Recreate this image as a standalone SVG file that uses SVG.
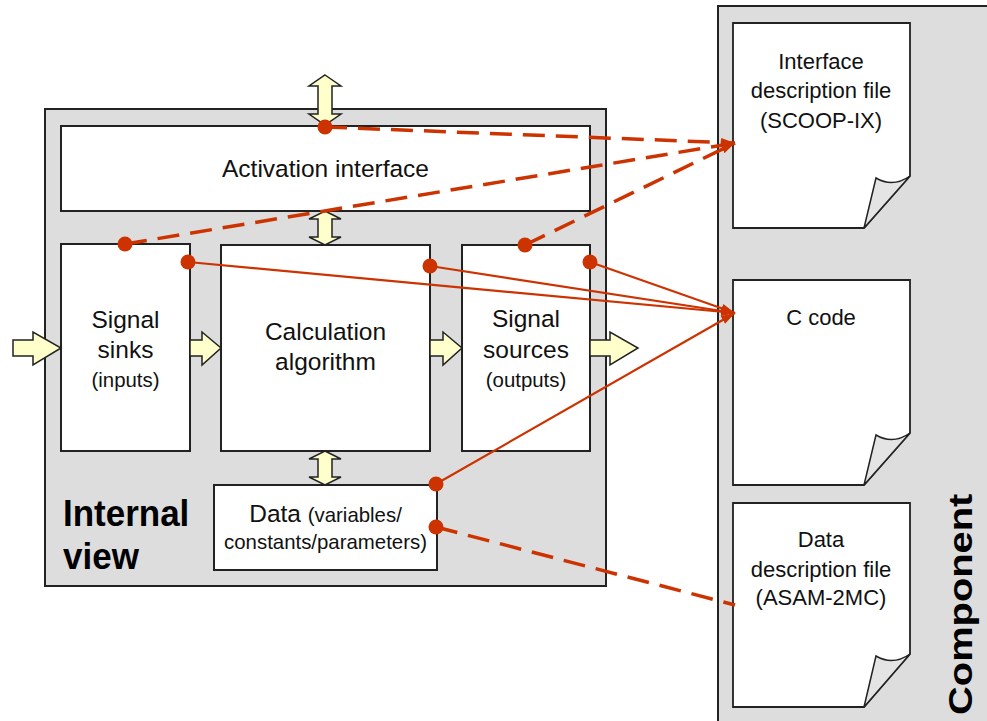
<svg xmlns="http://www.w3.org/2000/svg" width="987" height="721" viewBox="0 0 987 721">
<defs>
<style>
.panel{fill:#dddddd;stroke:#222;stroke-width:2}
.box{fill:#fff;stroke:#222;stroke-width:2}
.arr{fill:#ffffcc;stroke:#222;stroke-width:1.5;stroke-linejoin:miter}
.page{fill:#fff;stroke:#222;stroke-width:1.8;stroke-linejoin:miter}
.curl{fill:#e4e4e4;stroke:#222;stroke-width:1.5}
.t{font-family:"Liberation Sans",Arial,sans-serif;font-size:24.5px;fill:#111;text-anchor:middle}
.s{font-size:20.4px}
.d{font-family:"Liberation Sans",Arial,sans-serif;font-size:22px;fill:#111;text-anchor:middle}
.b{font-family:"Liberation Sans",Arial,sans-serif;font-weight:bold;fill:#000}
.dash{stroke:#cc3300;stroke-width:3.5;fill:none;stroke-dasharray:22 11}
.sol{stroke:#cc3300;stroke-width:2.2;fill:none}
.dot{fill:#cc3300}
</style>
<marker id="ah" markerUnits="userSpaceOnUse" markerWidth="16" markerHeight="12" refX="14" refY="6" orient="auto">
<path d="M0,1.5 L14,6 L0,10.5 Z" fill="#cc3300"/>
</marker>
</defs>

<g id="component">
<rect class="panel" x="718" y="6" width="280" height="730"/>
<text class="b" font-size="33.5" transform="translate(972,715) rotate(-90) scale(1.19,1)">Component</text>
</g>

<g id="doc-interface">
<path class="page" d="M733,23 H910 V176 L864,228 H733 Z"/>
<path class="curl" d="M910,176 Q893,188 876,178 L864,228 Z"/>
<text class="d" x="821" y="69">Interface</text>
<text class="d" x="821" y="98">description file</text>
<text class="d" x="821" y="128">(SCOOP-IX)</text>
</g>

<g id="doc-ccode">
<path class="page" d="M733,280 H910 V433 L864,485 H733 Z"/>
<path class="curl" d="M910,433 Q893,445 876,435 L864,485 Z"/>
<text class="d" x="821" y="325">C code</text>
</g>

<g id="doc-data">
<path class="page" d="M733,503 H910 V654 L864,707 H733 Z"/>
<path class="curl" d="M910,654 Q893,666 876,656 L864,707 Z"/>
<text class="d" x="821" y="547">Data</text>
<text class="d" x="821" y="577">description file</text>
<text class="d" x="821" y="605">(ASAM-2MC)</text>
</g>

<g id="internal-view">
<rect class="panel" x="45" y="109" width="561" height="477"/>
<text class="b" font-size="35" transform="translate(63,526) scale(1,1.08)">Internal</text>
<text class="b" font-size="35" transform="translate(63,569) scale(1,1.08)">view</text>
</g>

<g id="activation">
<rect class="box" x="61" y="126" width="529" height="85"/>
<text class="t" x="325.5" y="177">Activation interface</text>
</g>

<g id="sinks">
<rect class="box" x="61" y="244" width="129" height="207"/>
<text class="t" x="125.5" y="328">Signal</text>
<text class="t" x="125.5" y="358">sinks</text>
<text class="t s" x="125.5" y="387">(inputs)</text>
</g>

<g id="calc">
<rect class="box" x="221" y="245" width="209" height="206"/>
<text class="t" x="325.5" y="340">Calculation</text>
<text class="t" x="325.5" y="370">algorithm</text>
</g>

<g id="sources">
<rect class="box" x="462" y="245" width="128" height="206"/>
<text class="t" x="526" y="327">Signal</text>
<text class="t" x="526" y="358">sources</text>
<text class="t s" x="526" y="387">(outputs)</text>
</g>

<g id="data">
<rect class="box" x="214" y="485" width="223" height="85"/>
<text class="t" x="325.5" y="522">Data <tspan class="s">(variables/</tspan></text>
<text class="t s" x="325.5" y="549">constants/parameters)</text>
</g>

<g id="flow-arrows">
<path class="arr" d="M325,75 L341,86 L332,86 L332,114 L341,114 L325,125 L309,114 L318,114 L318,86 L309,86 Z"/>
<path class="arr" d="M325,211 L341,219 L332,219 L332,237 L341,237 L325,245 L309,237 L318,237 L318,219 L309,219 Z"/>
<path class="arr" d="M325,451 L341,459 L332,459 L332,477 L341,477 L325,485 L309,477 L318,477 L318,459 L309,459 Z"/>
<path class="arr" d="M13,340 L33,340 L33,332 L61,348 L33,365 L33,356 L13,356 Z"/>
<path class="arr" d="M190,340 L202,340 L202,332 L221,348 L202,365 L202,356 L190,356 Z"/>
<path class="arr" d="M430,340 L443,340 L443,332 L462,348 L443,365 L443,356 L430,356 Z"/>
<path class="arr" d="M590,340 L610,340 L610,332 L638,348 L610,365 L610,356 L590,356 Z"/>
</g>

<g id="connectors">
<line class="dash" x1="325" y1="127" x2="735" y2="143" marker-end="url(#ah)"/>
<line class="dash" x1="125" y1="244" x2="735" y2="143" marker-end="url(#ah)"/>
<line class="dash" x1="525" y1="245" x2="735" y2="143" marker-end="url(#ah)"/>
<line class="sol" x1="188" y1="262" x2="735" y2="313" marker-end="url(#ah)"/>
<line class="sol" x1="430" y1="266" x2="735" y2="313" marker-end="url(#ah)"/>
<line class="sol" x1="590" y1="262" x2="735" y2="313" marker-end="url(#ah)"/>
<line class="sol" x1="436" y1="484" x2="735" y2="313" marker-end="url(#ah)"/>
<line class="dash" x1="436" y1="527" x2="735" y2="605"/>
<circle class="dot" cx="325" cy="127" r="7.5"/>
<circle class="dot" cx="125" cy="244" r="7.5"/>
<circle class="dot" cx="188" cy="262" r="7.5"/>
<circle class="dot" cx="430" cy="266" r="7.5"/>
<circle class="dot" cx="525" cy="245" r="7.5"/>
<circle class="dot" cx="590" cy="262" r="7.5"/>
<circle class="dot" cx="436" cy="484" r="7.5"/>
<circle class="dot" cx="436" cy="527" r="7.5"/>
</g>
</svg>
